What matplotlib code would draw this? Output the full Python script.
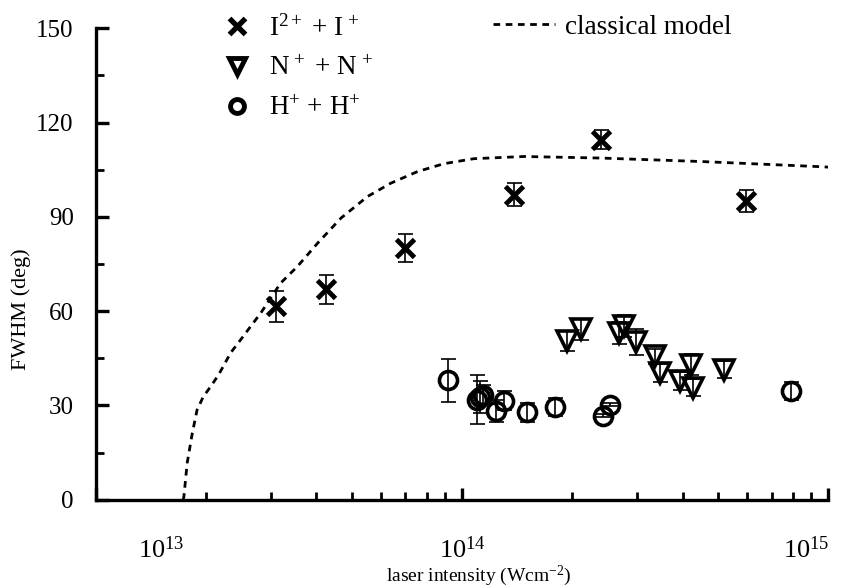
import matplotlib.pyplot as plt
import matplotlib.transforms as mtransforms
from matplotlib.lines import Line2D
import numpy as np

plt.rcParams['font.family'] = ['Liberation Serif', 'DejaVu Serif']
plt.rcParams['mathtext.fontset'] = 'custom'
plt.rcParams['mathtext.rm'] = 'Liberation Serif'
plt.rcParams['mathtext.it'] = 'Liberation Serif:italic'

# I2+ + I+  (crosses)
I_x = [3.10e13, 4.25e13, 7.0e13, 1.39e14, 2.40e14, 5.96e14]
I_y = [61.5, 66.9, 80.2, 97.1, 114.6, 95.0]
I_err = [4.9, 4.5, 4.5, 3.7, 3.0, 3.6]

# N+ + N+  (triangles)
N_x = [1.94e14, 2.11e14, 2.69e14, 2.76e14, 2.99e14, 3.36e14, 3.47e14, 3.93e14, 4.23e14, 4.27e14, 5.2e14]
N_y = [50.4, 54.2, 53.2, 55.2, 50.2, 45.6, 40.3, 37.7, 43.0, 35.6, 41.4]
N_err = [3.2, 3.3, 3.5, 3.5, 4.2, 2.5, 2.9, 2.9, 3.3, 2.7, 2.8]

# H+ + H+  (circles)
H_x = [9.16e13, 1.10e14, 1.12e14, 1.14e14, 1.24e14, 1.30e14, 1.50e14, 1.79e14, 2.43e14, 2.53e14, 7.9e14]
H_y = [38.0, 31.8, 32.7, 33.4, 28.4, 31.5, 27.8, 29.5, 26.8, 30.3, 34.5]
H_err = [6.9, 7.8, 5.1, 3.0, 3.5, 3.0, 3.0, 2.9, 0.5, 0.5, 2.9]

# classical model (log10 intensity, FWHM)
model_logx = [13.238, 13.240, 13.249, 13.263, 13.276, 13.293, 13.313, 13.335, 13.368, 13.395, 13.422,
              13.450, 13.504, 13.550, 13.605, 13.669, 13.742, 13.805, 13.878, 13.950, 14.032,
              14.169, 14.380, 14.653, 14.990, 15.0]
model_y = [0.0, 1.0, 11.7, 21.2, 28.6, 32.8, 36.0, 39.8, 46.8, 50.9, 55.1,
           59.4, 68.9, 74.2, 81.6, 89.6, 96.5, 100.7, 104.4, 106.9, 108.5,
           109.2, 108.7, 107.6, 105.9, 105.8]

x_ticks = [1e13, 1e14, 1e15]
x_ticklabels = ['10$^{13}$', '10$^{14}$', '10$^{15}$']

fig = plt.figure(figsize=(8.46, 5.88), dpi=100)
ax = fig.add_axes([0.1135, 0.150, 0.8655, 0.802])

eb = dict(fmt='none', ecolor='black', elinewidth=1.2, capsize=5.4, capthick=1.2, zorder=2)
ax.errorbar(I_x, I_y, yerr=I_err, **eb)
ax.errorbar(N_x, N_y, yerr=N_err, **eb)
ax.errorbar(H_x, H_y, yerr=H_err, **eb)

ax.plot(I_x, I_y, 'x', color='black', markersize=13, markeredgewidth=3.5, zorder=3)
ax.plot(N_x, N_y, 'v', markerfacecolor='none', markeredgecolor='black',
        markersize=15, markeredgewidth=2.6, zorder=3)
ax.plot(H_x, H_y, 'o', markerfacecolor='none', markeredgecolor='black',
        markersize=13, markeredgewidth=2.6, zorder=3)

hM, = ax.plot(10 ** np.array(model_logx), model_y, color='black', linewidth=2.0,
              linestyle=(0, (2.4, 2.0)), zorder=1)

ax.set_xscale('log')
ax.set_xlim(1e13, 1e15)
ax.set_ylim(0, 150)
ax.set_xticks(x_ticks, x_ticklabels)
ax.set_yticks([0, 30, 60, 90, 120, 150])
ax.set_yticks([15, 45, 75, 105, 135], minor=True)

for s in ['top', 'right']:
    ax.spines[s].set_visible(False)
for s in ['left', 'bottom']:
    ax.spines[s].set_linewidth(2.4)

ax.tick_params(axis='both', which='major', direction='in', length=9, width=2.4)
ax.tick_params(axis='both', which='minor', direction='in', length=6, width=2.0)
ax.tick_params(axis='x', which='major', pad=26, labelsize=19)
ax.tick_params(axis='y', which='major', pad=16, labelsize=18)

# first and last x labels sit inside the figure, as in the original
ticks = ax.xaxis.get_major_ticks()
for tk, dx in [(ticks[0], 0.65), (ticks[-1], -0.22)]:
    tk.label1.set_transform(tk.label1.get_transform() +
                            mtransforms.ScaledTranslation(dx, 0, fig.dpi_scale_trans))

ax.set_xlabel('laser intensity (Wcm$^{-2}$)', fontsize=14)
ax.set_ylabel('FWHM (deg)', fontsize=16)
ax.xaxis.set_label_coords(0.522, -0.135)
ax.yaxis.set_label_coords(-0.089, 0.405)

lh = [Line2D([], [], marker='x', linestyle='none', color='black', markersize=11, markeredgewidth=3.8),
      Line2D([], [], marker='v', linestyle='none', markerfacecolor='none', markeredgecolor='black',
             markersize=12, markeredgewidth=3.5),
      Line2D([], [], marker='o', linestyle='none', markerfacecolor='none', markeredgecolor='black',
             markersize=10, markeredgewidth=3.5)]
leg1 = ax.legend(lh, ['I$^{2+}$ + I$^{\\,+}$', 'N$^{\\,+}$ + N$^{\\,+}$', 'H$^{+}$ + H$^{+}$'],
                 loc='upper left', bbox_to_anchor=(0.255, 0.993), bbox_transform=fig.transFigure,
                 frameon=False, fontsize=19.5, handlelength=0.8, handletextpad=0.75,
                 labelspacing=0.55, borderaxespad=0.0)
ax.add_artist(leg1)
ax.legend([hM], ['classical model'], loc='upper left', bbox_to_anchor=(0.570, 0.993),
          bbox_transform=fig.transFigure, frameon=False, fontsize=19.5, handlelength=2.3,
          handletextpad=0.35, borderaxespad=0.0)

fig.savefig('out.png', dpi=100)
